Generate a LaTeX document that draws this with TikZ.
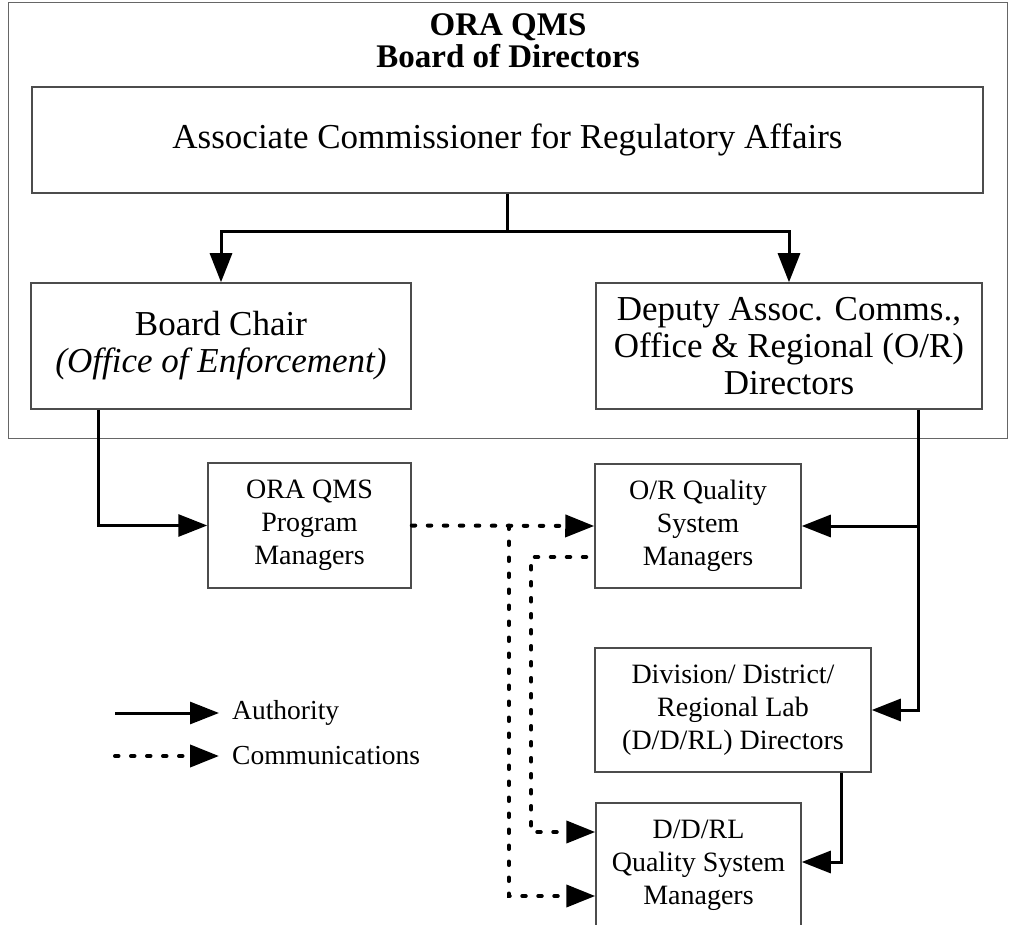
\documentclass[tikz,border=0pt]{standalone}
\usepackage{fontspec}
\setmainfont{Liberation Serif}
\usetikzlibrary{arrows.meta}

\begin{document}
\begin{tikzpicture}[x=1pt, y=-1pt,
    bigbox/.style={draw=black!70, line width=1.5pt, align=center, inner sep=0pt, font=\fontsize{35}{37}\selectfont},
    smallbox/.style={draw=black!70, line width=1.5pt, align=center, inner sep=0pt, font=\fontsize{28}{33}\selectfont},
    title/.style={anchor=base, inner sep=0pt, font=\bfseries\fontsize{33}{33}\selectfont},
    legtext/.style={anchor=west, inner sep=0pt, font=\fontsize{27.5}{32}\selectfont},
    auth/.style={line width=3pt, -{Triangle[length=29pt, width=22pt]}},
    comm/.style={line width=4pt, line cap=round, dash pattern=on 3.5pt off 12.5pt, -{Triangle[length=29pt, width=22pt]}},
    ]
    \useasboundingbox (0,0) rectangle (1009,925);

    % board of directors frame
    \draw [black!60, line width=1pt] (8,3) rectangle (1007,438);
    \node (titleone) [title] at (508,36) {ORA QMS};
    \node (titletwo) [title] at (508,68) {Board of Directors};

    \node (assoc) [bigbox, minimum width=951pt, minimum height=106pt] at (507.5,140) {Associate Commissioner for Regulatory Affairs};
    \node (chair) [bigbox, minimum width=380pt, minimum height=126pt] at (221,346) {Board Chair\\\textit{(Office of Enforcement)}};
    \node (deputy) [bigbox, minimum width=386pt, minimum height=126pt] at (789,346) {Deputy Assoc. Comms.,\\Office \& Regional (O/R)\\Directors};

    \node (pm) [smallbox, minimum width=203pt, minimum height=125pt] at (309.5,525.5) {ORA QMS\\Program\\Managers};
    \node (orqs) [smallbox, minimum width=206pt, minimum height=124pt] at (698,526) {O/R Quality\\System\\Managers};
    \node (ddrl) [smallbox, minimum width=276pt, minimum height=124pt] at (733,710) {Division/ District/\\Regional Lab\\(D/D/RL) Directors};
    \node (ddqs) [smallbox, minimum width=205pt, minimum height=124pt] at (698.5,865) {D/D/RL\\Quality System\\Managers};

    % authority
    \draw [line width=3pt] (assoc.south) -- ++(0,38) coordinate (split);
    \draw [auth] (split) -| (chair.north);
    \draw [auth] (split) -| (deputy.north);
    \draw [auth] (chair.south west) ++(68,0) |- (pm.west);
    \draw [auth] (deputy.south east) ++(-64,0) coordinate (dr) |- (ddrl.east);
    \draw [auth] (dr |- orqs.east) -- (orqs.east);
    \draw [auth] (ddrl.south east) ++(-30,0) |- ([yshift=3pt]ddqs.east);

    % communications
    \draw [comm] (pm.east) -- (orqs.west);
    \draw [comm] (pm.east) ++(97,0) |- ([yshift=-31pt]ddqs.west);
    \draw [comm] (orqs.west) ++(-8,31) -| ++(-55,0) |- ([yshift=33pt]ddqs.west);

    % legend
    \node (legauth) [legtext] at (232,713) {Authority};
    \node (legcomm) [legtext] at (232,756) {Communications};
    \coordinate (legauthstart) at (115,713);
    \coordinate (legcommstart) at (115,756);
    \draw [auth] (legauthstart) -- ([xshift=-13pt]legauth.west);
    \draw [comm] (legcommstart) -- ([xshift=-13pt]legcomm.west);
\end{tikzpicture}
\end{document}
